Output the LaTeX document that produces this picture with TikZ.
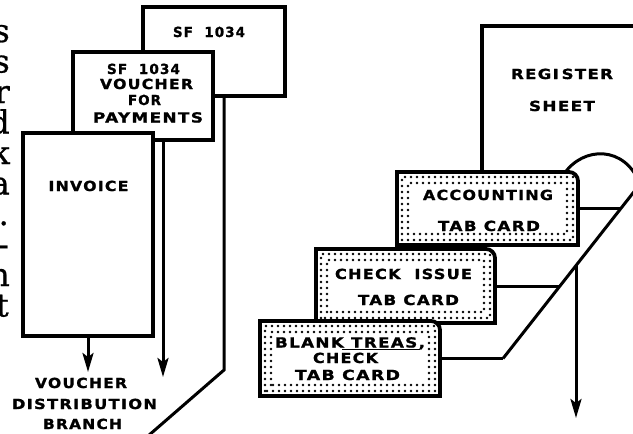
\documentclass[tikz,border=0pt]{standalone}
\usepackage{fontspec}
\usepackage{graphicx}
\usetikzlibrary{arrows.meta,calc}
\newfontfamily\labfont{DejaVu Sans}[LetterSpace=8,FakeBold=1.2]
\newfontfamily\bodyfont{DejaVu Serif}[FakeBold=0.8]
\newcommand{\mylbl}[2]{\resizebox{#1pt}{10.3pt}{\labfont\bfseries #2}}
\begin{document}
\begin{tikzpicture}[x=1pt,y=-1pt,
  lab/.style={inner sep=0pt, anchor=base},
  paper/.style={draw, line width=3.8pt, fill=white, inner sep=0pt, outer sep=0pt},
  conn/.style={line width=3pt},
  arr/.style={conn, -{Stealth[length=19pt,width=11pt,inset=4pt]}},
  body/.style={font=\bodyfont\fontsize{32}{34}\selectfont, anchor=base east, inner sep=0pt},
  cardbox/.style={inner sep=0pt, outer sep=0pt},
  cardline/.style={line width=3.8pt, fill=white},
  dots/.style={line width=2.8pt, dash pattern=on 0pt off 6pt, line cap=round},
]
\path[use as bounding box] (0,0) rectangle (633,434);

% cropped paragraph text at the left edge
\node[body] (t1) at (10,42) {s};
\node[body] (t2) at (10,72.5) {s};
\node[body] (t3) at (10,103) {r};
\node[body] (t4) at (10,133.5) {d};
\node[body] (t5) at (10,164) {k};
\node[body] (t6) at (10,194.5) {a};
\node[body] (t7) at (9,225) {.};
\node[body] (t8) at (9,255.5) {-};
\node[body] (t9) at (10,286) {n};
\node[body] (t10) at (9,316.5) {t};

% SF 1034 (back)
\node[paper, minimum width=142pt, minimum height=89pt] (sfback) at (214,51.5) {};
\node[lab] (sfbacklab) at (209,37) {\mylbl{72}{SF\ \ 1034}};
\coordinate (bend) at (224,370);
\coordinate (bout) at (148,436);
\draw[conn] (sfback.south -| bend) -- (bend) -- (bout);

% SF 1034 voucher for payments
\node[paper, minimum width=140pt, minimum height=88pt] (vouch) at (143,96) {};
\node[lab] (vl1) at (143.5,74) {\mylbl{73}{SF\ \ 1034}};
\node[lab] (vl2) at (146.5,89) {\mylbl{93}{VOUCHER}};
\node[lab] (vl3) at (144.5,105) {\mylbl{33}{FOR}};
\node[lab] (vl4) at (148,122.5) {\mylbl{110}{PAYMENTS}};
\coordinate (vtip) at (163,377);
\draw[arr] (vouch.south -| vtip) -- (vtip);

% invoice
\node[paper, minimum width=130pt, minimum height=203pt] (inv) at (88,234.5) {};
\node[lab] (invlab) at (88.5,191) {\mylbl{80}{INVOICE}};
\coordinate (itip) at (88,372);
\draw[arr] (inv.south) -- (itip);

\node[lab] (vd1) at (81,388) {\mylbl{92}{VOUCHER}};
\node[lab] (vd2) at (84.5,409) {\mylbl{145}{DISTRIBUTION}};
\node[lab] (vd3) at (82.5,429) {\mylbl{79}{BRANCH}};

% register sheet
\node[cardbox, minimum width=178pt, minimum height=146pt] (reg) at (571,99) {};
\draw[line width=3.8pt] (reg.south west) -- (reg.north west) -- (reg.north east);
\node[lab] (regl1) at (562,79) {\mylbl{102}{REGI\,STER}};
\node[lab] (regl2) at (562,111) {\mylbl{66}{SHEET}};

% flow lines on the right
\coordinate (arcstart) at (564,174);
\coordinate (arcend) at (640,184.1);
\coordinate (dtop) at (645,177.7);
\coordinate (dbot) at (503,358.5);
\coordinate (j1) at (620.8,208.5);
\coordinate (j2) at (560,286);
\coordinate (j3) at (576,265.6);
\coordinate (rtip) at (576,418);
\draw[conn] (arcstart) .. controls (583,146) and (625,145) .. (arcend);
\draw[conn] (dtop) -- (dbot);
\draw[arr] (j3) -- (rtip);

% accounting tab card
\node[cardbox, minimum width=181pt, minimum height=73pt] (acc) at (487.5,208.5) {};
\draw[cardline] (acc.south west) -- (acc.north west) [rounded corners=9pt] -- (acc.north east) [sharp corners] -- (acc.south east) -- cycle;
\draw[dots] ($(acc.south west)+(5,-5)$) rectangle ($(acc.north east)+(-5,5)$);
\draw[dots] ($(acc.south west)+(11,-11)$) rectangle ($(acc.north east)+(-11,11)$);
\node[lab] (accl1) at (488,200) {\mylbl{130}{ACCOUNTING}};
\node[lab] (accl2) at (489,231) {\mylbl{102}{TAB CARD}};
\draw[conn] (acc.east) -- (j1);

% check issue tab card
\node[cardbox, minimum width=179pt, minimum height=74pt] (chk) at (405.5,286) {};
\draw[cardline] (chk.south west) -- (chk.north west) [rounded corners=9pt] -- (chk.north east) [sharp corners] -- (chk.south east) -- cycle;
\draw[dots] ($(chk.south west)+(5,-5)$) rectangle ($(chk.north east)+(-5,5)$);
\draw[dots] ($(chk.south west)+(11,-11)$) rectangle ($(chk.north east)+(-11,11)$);
\node[lab] (chkl1) at (403.5,279) {\mylbl{137}{CHECK\ \ ISSUE}};
\node[lab] (chkl2) at (408.5,305) {\mylbl{101}{TAB CARD}};
\draw[conn] (chk.east) -- (j2);

% blank treasury check tab card
\node[cardbox, minimum width=180pt, minimum height=75pt] (blk) at (350,358.5) {};
\draw[cardline] (blk.south west) -- (blk.north west) [rounded corners=9pt] -- (blk.north east) [sharp corners] -- (blk.south east) -- cycle;
\draw[dots] ($(blk.south west)+(5,-5)$) rectangle ($(blk.north east)+(-5,5)$);
\draw[dots] ($(blk.south west)+(11,-11)$) rectangle ($(blk.north east)+(-11,11)$);
\node[lab] (blkl1) at (350,347.5) {\mylbl{150}{BLANK TREAS,}};
\draw[line width=1pt] ([xshift=-8pt,yshift=-2pt]blkl1.base) -- ([xshift=70pt,yshift=-2pt]blkl1.base);
\node[lab] (blkl2) at (345.5,363) {\mylbl{65}{CHECK}};
\node[lab] (blkl3) at (347.5,380) {\mylbl{105}{TAB CARD}};
\draw[conn] (blk.east) -- (dbot);
\end{tikzpicture}
\end{document}
